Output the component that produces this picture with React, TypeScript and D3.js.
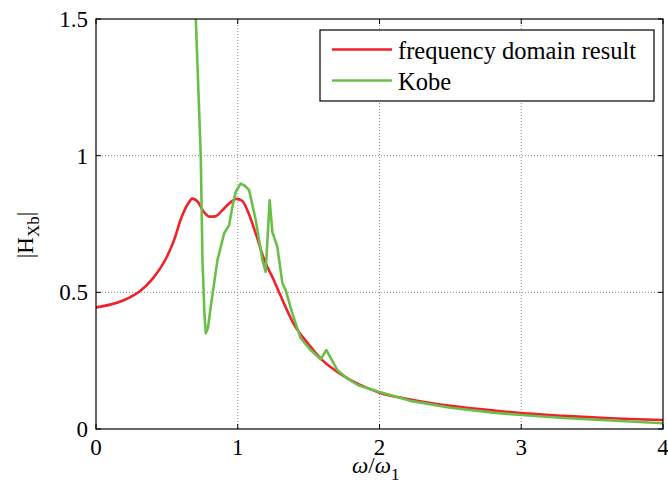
import React from "react";
import * as d3 from "d3";

// Frequency-domain result (red)
const freqX = [0, 0.1, 0.2, 0.3, 0.4, 0.5, 0.55, 0.6, 0.65, 0.68, 0.72, 0.76, 0.8, 0.84, 0.9, 0.95, 0.99, 1.03, 1.08, 1.13, 1.19, 1.25, 1.3, 1.4, 1.5, 1.6, 1.7, 1.8, 1.9, 2.0, 2.2, 2.5, 2.8, 3.0, 3.3, 3.6, 4.0];
const freqY = [0.445, 0.455, 0.472, 0.5, 0.55, 0.63, 0.69, 0.77, 0.825, 0.843, 0.83, 0.795, 0.777, 0.778, 0.805, 0.83, 0.842, 0.835, 0.785, 0.71, 0.615, 0.55, 0.49, 0.38, 0.31, 0.25, 0.21, 0.178, 0.153, 0.133, 0.11, 0.085, 0.068, 0.058, 0.048, 0.04, 0.033];

// Kobe (green)
const kobeX = [0.702, 0.739, 0.751, 0.765, 0.775, 0.79, 0.81, 0.833, 0.857, 0.904, 0.939, 0.965, 0.986, 1.021, 1.05, 1.08, 1.127, 1.174, 1.197, 1.225, 1.244, 1.279, 1.315, 1.338, 1.385, 1.444, 1.514, 1.585, 1.625, 1.702, 1.772, 1.85, 1.995, 2.218, 2.5, 2.8, 3.0, 3.3, 3.6, 4.0];
const kobeY = [1.53, 1.0, 0.62, 0.42, 0.35, 0.37, 0.45, 0.533, 0.618, 0.716, 0.746, 0.82, 0.868, 0.898, 0.89, 0.874, 0.764, 0.618, 0.575, 0.837, 0.721, 0.667, 0.533, 0.508, 0.423, 0.332, 0.289, 0.255, 0.289, 0.216, 0.185, 0.16, 0.136, 0.103, 0.078, 0.06, 0.051, 0.04, 0.032, 0.021];

const xTicks = [0, 1, 2, 3, 4];
const yTicks = [0, 0.5, 1, 1.5];
const seriesNames = ["frequency domain result", "Kobe"];

const W = 668;
const H = 486;
const M = { left: 96, right: 663, top: 19, bottom: 429 };
const FONT = '"Times New Roman", Times, Tinos, "Liberation Serif", "Nimbus Roman", "Noto Serif", "DejaVu Serif", serif';
const RED = "#f02128";
const GREEN = "#6abf4b";

export default function App() {
  const x = d3.scaleLinear().domain([0, 4]).range([M.left, M.right]);
  const y = d3.scaleLinear().domain([0, 1.5]).range([M.bottom, M.top]);

  const redLine = d3
    .line<number>()
    .x((_, i) => x(freqX[i]))
    .y((d) => y(d))
    .curve(d3.curveMonotoneX);
  const greenLine = d3
    .line<number>()
    .x((_, i) => x(kobeX[i]))
    .y((d) => y(d));

  const tickLen = 5;
  const gridX = xTicks.filter((t) => t > 0 && t < 4);
  const gridY = yTicks.filter((t) => t > 0 && t < 1.5);

  return (
    <svg width={W} height={H} style={{ position: "absolute", left: 0, top: 0, background: "#fff" }}>
      <defs>
        <clipPath id="plotClip">
          <rect x={M.left} y={M.top} width={M.right - M.left} height={M.bottom - M.top} />
        </clipPath>
      </defs>
      <rect x={0} y={0} width={W} height={H} fill="#fff" />

      {/* grid */}
      {gridX.map((t) => (
        <line key={"gx" + t} x1={x(t)} x2={x(t)} y1={M.top} y2={M.bottom} stroke="#888" strokeWidth={1} strokeDasharray="1,2" />
      ))}
      {gridY.map((t) => (
        <line key={"gy" + t} x1={M.left} x2={M.right} y1={y(t)} y2={y(t)} stroke="#888" strokeWidth={1} strokeDasharray="1,2" />
      ))}

      {/* series */}
      <g clipPath="url(#plotClip)" fill="none" strokeLinejoin="round" strokeLinecap="round">
        <path d={redLine(freqY) || ""} stroke={RED} strokeWidth={2.6} />
        <path d={greenLine(kobeY) || ""} stroke={GREEN} strokeWidth={2.6} />
      </g>

      {/* box */}
      <rect x={M.left} y={M.top} width={M.right - M.left} height={M.bottom - M.top} fill="none" stroke="#000" strokeWidth={1.2} />

      <g fontFamily={FONT} fontSize={23} fill="#000">
        {/* ticks */}
        {xTicks.map((t) => (
          <g key={"xt" + t}>
            <line x1={x(t)} x2={x(t)} y1={M.bottom} y2={M.bottom - tickLen} stroke="#000" />
            <line x1={x(t)} x2={x(t)} y1={M.top} y2={M.top + tickLen} stroke="#000" />
            <text x={x(t)} y={M.bottom + 26} textAnchor="middle">
              {t}
            </text>
          </g>
        ))}
        {yTicks.map((t) => (
          <g key={"yt" + t}>
            <line x1={M.left} x2={M.left + tickLen} y1={y(t)} y2={y(t)} stroke="#000" />
            <line x1={M.right} x2={M.right - tickLen} y1={y(t)} y2={y(t)} stroke="#000" />
            <text x={M.left - 8} y={y(t) + 8} textAnchor="end">
              {t}
            </text>
          </g>
        ))}

        {/* legend */}
        <rect x={320} y={30} width={334} height={71} fill="#fff" stroke="#000" strokeWidth={1.2} />
        {seriesNames.map((name, i) => {
          const ly = 49.5 + i * 31;
          return (
            <g key={name}>
              <line x1={332} x2={392} y1={ly} y2={ly} stroke={i === 0 ? RED : GREEN} strokeWidth={2.6} />
              <text x={398} y={ly + 9} fontSize={24.5}>{name}</text>
            </g>
          );
        })}

        {/* axis labels */}
        <text transform={`translate(33, 235) rotate(-90)`} textAnchor="middle">
          |H
          <tspan fontSize={17} dy={6}>Xb</tspan>
          <tspan dy={-6}>|</tspan>
        </text>
        <text x={352} y={473}>
          <tspan fontStyle="italic">ω</tspan>
          <tspan>/</tspan>
          <tspan fontStyle="italic">ω</tspan>
          <tspan fontSize={17} dy={7}>1</tspan>
        </text>
      </g>
    </svg>
  );
}
